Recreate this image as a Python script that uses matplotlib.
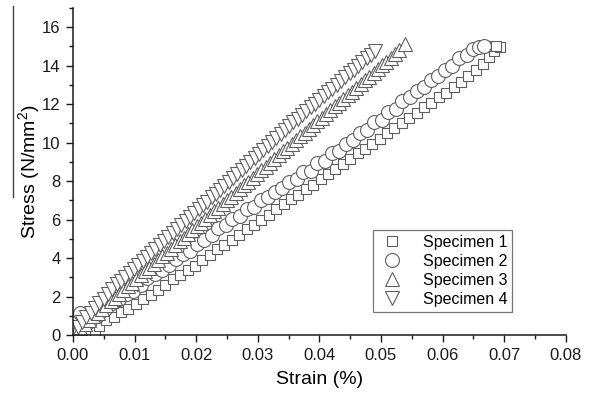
import matplotlib
matplotlib.use("Agg")
import matplotlib.pyplot as plt
from matplotlib.lines import Line2D
from matplotlib.ticker import MultipleLocator, FormatStrFormatter

plt.rcParams["font.family"] = ["Liberation Sans", "DejaVu Sans"]
plt.rcParams["mathtext.fontset"] = "custom"
plt.rcParams["mathtext.rm"] = "Liberation Sans"

# Specimen 1 (squares)
strain_1 = [0.0036, 0.0042, 0.0054, 0.0066, 0.0078, 0.0090, 0.0102, 0.0114, 0.0126, 0.0138,
            0.0150, 0.0162, 0.0174, 0.0186, 0.0198, 0.0210, 0.0222, 0.0234, 0.0246, 0.0258,
            0.0270, 0.0282, 0.0294, 0.0306, 0.0318, 0.0330, 0.0342, 0.0354, 0.0366, 0.0378,
            0.0390, 0.0402, 0.0414, 0.0426, 0.0438, 0.0450, 0.0462, 0.0474, 0.0486, 0.0498,
            0.0510, 0.0522, 0.0534, 0.0546, 0.0558, 0.0570, 0.0582, 0.0594, 0.0606, 0.0618,
            0.0630, 0.0642, 0.0654, 0.0666, 0.0675, 0.0684, 0.0693, 0.0662, 0.0674, 0.0686]
stress_1 = [0.15, 0.45, 0.80, 0.95, 1.20, 1.35, 1.60, 1.90, 2.10, 2.35,
            2.60, 2.90, 3.10, 3.40, 3.60, 3.90, 4.15, 4.45, 4.70, 4.95,
            5.20, 5.50, 5.70, 6.00, 6.25, 6.55, 6.80, 7.05, 7.30, 7.60,
            7.80, 8.10, 8.35, 8.65, 8.90, 9.15, 9.45, 9.65, 9.95, 10.20,
            10.50, 10.75, 11.00, 11.30, 11.55, 11.85, 12.05, 12.35, 12.60, 12.90,
            13.15, 13.45, 13.75, 14.10, 14.45, 14.75, 14.95, 14.95, 15.00, 15.00]

# Specimen 2 (circles)
strain_2 = [0.0012, 0.0028, 0.0040, 0.0052, 0.0063, 0.0075, 0.0087, 0.0098, 0.0110, 0.0121,
            0.0133, 0.0144, 0.0156, 0.0167, 0.0179, 0.0190, 0.0202, 0.0213, 0.0225, 0.0236,
            0.0248, 0.0259, 0.0271, 0.0282, 0.0294, 0.0305, 0.0317, 0.0328, 0.0340, 0.0351,
            0.0363, 0.0374, 0.0386, 0.0397, 0.0409, 0.0420, 0.0432, 0.0443, 0.0455, 0.0466,
            0.0478, 0.0489, 0.0501, 0.0512, 0.0524, 0.0535, 0.0547, 0.0558, 0.0570, 0.0581,
            0.0593, 0.0604, 0.0616, 0.0627, 0.0639, 0.0650, 0.0660, 0.0668]
stress_2 = [1.15, 0.75, 1.05, 1.35, 1.65, 1.85, 2.15, 2.30, 2.60, 2.95,
            3.15, 3.40, 3.65, 3.95, 4.20, 4.35, 4.75, 4.95, 5.20, 5.55,
            5.70, 6.05, 6.20, 6.55, 6.65, 7.00, 7.15, 7.45, 7.65, 7.95,
            8.10, 8.45, 8.55, 8.95, 9.05, 9.45, 9.55, 9.95, 10.15, 10.50,
            10.65, 11.05, 11.20, 11.60, 11.75, 12.15, 12.35, 12.70, 12.90, 13.25,
            13.45, 13.80, 14.00, 14.40, 14.55, 14.85, 14.95, 15.00]

# Specimen 3 (up triangles)
strain_3 = [0.0005, 0.0012, 0.0019, 0.0026, 0.0033, 0.0040, 0.0047, 0.0054, 0.0061, 0.0068,
            0.0075, 0.0082, 0.0089, 0.0096, 0.0103, 0.0110, 0.0117, 0.0124, 0.0131, 0.0138,
            0.0145, 0.0152, 0.0159, 0.0166, 0.0173, 0.0180, 0.0187, 0.0194, 0.0201, 0.0208,
            0.0215, 0.0222, 0.0229, 0.0236, 0.0243, 0.0250, 0.0257, 0.0264, 0.0271, 0.0278,
            0.0285, 0.0292, 0.0299, 0.0306, 0.0313, 0.0320, 0.0327, 0.0334, 0.0341, 0.0348,
            0.0355, 0.0362, 0.0369, 0.0376, 0.0383, 0.0390, 0.0397, 0.0404, 0.0411, 0.0418,
            0.0425, 0.0432, 0.0439, 0.0446, 0.0453, 0.0460, 0.0467, 0.0474, 0.0481, 0.0488,
            0.0495, 0.0502, 0.0509, 0.0516, 0.0523, 0.0530, 0.0539]
stress_3 = [0.20, 0.39, 0.59, 0.78, 0.98, 1.17, 1.37, 1.56, 1.76, 1.95,
            2.15, 2.34, 2.53, 2.73, 2.92, 3.12, 3.31, 3.51, 3.70, 3.90,
            4.09, 4.29, 4.48, 4.68, 4.87, 5.06, 5.26, 5.45, 5.65, 5.84,
            6.04, 6.23, 6.43, 6.62, 6.82, 7.01, 7.20, 7.40, 7.59, 7.79,
            7.98, 8.18, 8.37, 8.57, 8.76, 8.96, 9.15, 9.35, 9.54, 9.73,
            9.93, 10.12, 10.32, 10.51, 10.71, 10.90, 11.10, 11.29, 11.49, 11.68,
            11.88, 12.07, 12.26, 12.46, 12.65, 12.85, 13.04, 13.24, 13.43, 13.63,
            13.82, 14.02, 14.21, 14.41, 14.60, 14.80, 15.12]

# Specimen 4 (down triangles)
strain_4 = [0.0008, 0.0015, 0.0022, 0.0029, 0.0036, 0.0043, 0.0050, 0.0057, 0.0064, 0.0071,
            0.0078, 0.0085, 0.0092, 0.0099, 0.0106, 0.0113, 0.0120, 0.0127, 0.0134, 0.0141,
            0.0148, 0.0155, 0.0162, 0.0169, 0.0176, 0.0183, 0.0190, 0.0197, 0.0204, 0.0211,
            0.0218, 0.0225, 0.0232, 0.0239, 0.0246, 0.0253, 0.0260, 0.0267, 0.0274, 0.0281,
            0.0288, 0.0295, 0.0302, 0.0309, 0.0316, 0.0323, 0.0330, 0.0337, 0.0344, 0.0351,
            0.0358, 0.0365, 0.0372, 0.0379, 0.0386, 0.0393, 0.0400, 0.0407, 0.0414, 0.0421,
            0.0428, 0.0435, 0.0442, 0.0449, 0.0456, 0.0463, 0.0470, 0.0477, 0.0484, 0.0491]
stress_4 = [0.43, 0.68, 0.92, 1.17, 1.41, 1.66, 1.90, 2.15, 2.39, 2.63,
            2.83, 3.04, 3.24, 3.45, 3.65, 3.86, 4.07, 4.27, 4.48, 4.68,
            4.89, 5.09, 5.30, 5.50, 5.71, 5.91, 6.12, 6.33, 6.53, 6.74,
            6.94, 7.15, 7.35, 7.56, 7.76, 7.97, 8.17, 8.38, 8.58, 8.79,
            9.00, 9.20, 9.41, 9.61, 9.82, 10.02, 10.23, 10.43, 10.64, 10.84,
            11.05, 11.25, 11.44, 11.64, 11.83, 12.03, 12.23, 12.42, 12.62, 12.81,
            13.01, 13.21, 13.40, 13.60, 13.79, 13.99, 14.19, 14.38, 14.58, 14.78]

labels = ["Specimen 1", "Specimen 2", "Specimen 3", "Specimen 4"]
markers = ["s", "o", "^", "v"]
sizes = [7.5, 10, 9.5, 9.5]
edge = "#5e5e5e"

fig = plt.figure(figsize=(5.93, 3.97), dpi=100)
ax = fig.add_axes([0.123, 0.156, 0.831, 0.824])

series = [(strain_1, stress_1), (strain_2, stress_2), (strain_3, stress_3), (strain_4, stress_4)]
for (sx, sy), lab, mk, ms in zip(series, labels, markers, sizes):
    ax.plot(sx, sy, linestyle="none", marker=mk, markersize=ms,
            markerfacecolor="white", markeredgecolor=edge, markeredgewidth=0.8,
            label=lab)

ax.set_xlim(0, 0.08)
ax.set_ylim(0, 17)
ax.xaxis.set_major_locator(MultipleLocator(0.01))
ax.xaxis.set_minor_locator(MultipleLocator(0.005))
ax.xaxis.set_major_formatter(FormatStrFormatter("%.2f"))
ax.yaxis.set_major_locator(MultipleLocator(2))
ax.yaxis.set_minor_locator(MultipleLocator(1))
ax.tick_params(which="major", length=5, width=1, labelsize=12, colors="#1a1a1a", pad=4)
ax.tick_params(which="minor", length=3, width=1, colors="#1a1a1a")

for side in ["top", "right"]:
    ax.spines[side].set_visible(False)
for side in ["left", "bottom"]:
    ax.spines[side].set_linewidth(1.1)
    ax.spines[side].set_color("#1a1a1a")

ax.set_xlabel("Strain (%)", fontsize=14, labelpad=6)
ax.set_ylabel(r"Stress (N/mm$^\mathregular{2}$)", fontsize=14)
ax.yaxis.set_label_coords(-0.06, 0.5)

leg = ax.legend(loc="center", bbox_to_anchor=(0.75, 0.196), fontsize=11.5,
                frameon=True, fancybox=False, edgecolor="#555555",
                handletextpad=1.0, borderpad=0.3, labelspacing=0.25,
                handlelength=1.8)
leg.get_frame().set_linewidth(0.9)

# thin line that sits over the y label in the source image
fig.add_artist(Line2D([0.022, 0.022], [0.504, 0.985], transform=fig.transFigure,
                      color="#444444", linewidth=1.0))

fig.savefig("out.png", dpi=100)
